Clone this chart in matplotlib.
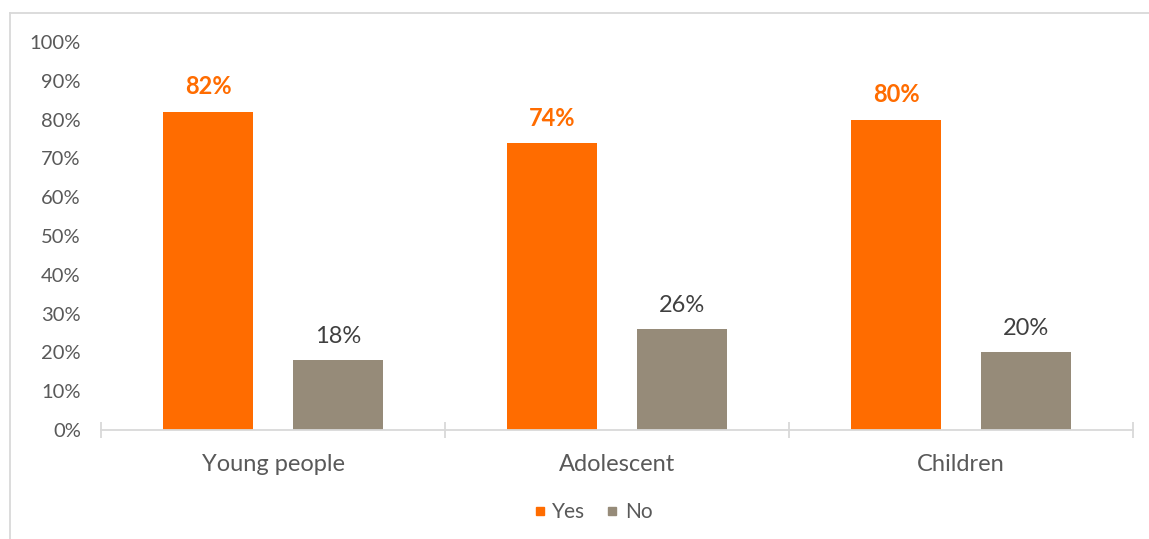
import matplotlib
matplotlib.use("Agg")
import matplotlib.pyplot as plt
from matplotlib.lines import Line2D
import numpy as np

plt.rcParams['font.family'] = ['Lato', 'DejaVu Sans']

categories = ["Young people", "Adolescent", "Children"]
yes_values = [0.82, 0.74, 0.80]
no_values = [0.18, 0.26, 0.20]
series_names = ["Yes", "No"]
y_ticks = [0.0, 0.1, 0.2, 0.3, 0.4, 0.5, 0.6, 0.7, 0.8, 0.9, 1.0]

ORANGE = "#FF6C00"
TAUPE = "#968B79"
TEXT = "#595959"
LINE = "#D9D9D9"

W, H = 1149, 539
fig = plt.figure(figsize=(W / 100, H / 100), dpi=100)
ax = fig.add_axes([101 / W, 1 - 430 / H, (1133 - 101) / W, (430 - 42) / H])

x = np.arange(len(categories))
width = 0.262
offset = 0.188
bars_yes = ax.bar(x - offset, yes_values, width, color=ORANGE, label=series_names[0])
bars_no = ax.bar(x + offset, no_values, width, color=TAUPE, label=series_names[1])

for rect, v in zip(bars_yes, yes_values):
    ax.annotate(f"{v:.0%}", (rect.get_x() + rect.get_width() / 2, v),
                xytext=(0, 12.5), textcoords="offset points",
                ha="center", va="baseline", fontsize=17,
                fontweight="bold", color=ORANGE)
for rect, v in zip(bars_no, no_values):
    ax.annotate(f"{v:.0%}", (rect.get_x() + rect.get_width() / 2, v),
                xytext=(0, 12.5), textcoords="offset points",
                ha="center", va="baseline", fontsize=17,
                color="#404040")

ax.set_xlim(-0.5, len(categories) - 0.5)
ax.set_ylim(0, 1)
ax.set_yticks(y_ticks)
ax.set_yticklabels([f"{t:.0%}" for t in y_ticks])
ax.tick_params(axis="y", length=0, pad=14.5, labelsize=14.5, labelcolor=TEXT)

ax.set_xticks(x)
ax.set_xticklabels(categories)
ax.set_xticks(np.arange(len(categories) + 1) - 0.5, minor=True)
ax.tick_params(axis="x", which="major", length=0, pad=17, labelsize=17, labelcolor=TEXT)
ax.tick_params(axis="x", which="minor", direction="inout", length=11.5,
               width=1.3, color=LINE)

for s in ["top", "right", "left"]:
    ax.spines[s].set_visible(False)
ax.spines["bottom"].set_color(LINE)
ax.spines["bottom"].set_linewidth(1.3)

# chart-area frame (top and left edges)
fig.add_artist(Line2D([10 / W, 1.0], [1 - 13 / H, 1 - 13 / H],
                      transform=fig.transFigure, color=LINE, lw=1.3))
fig.add_artist(Line2D([10 / W, 10 / W], [1 - 13 / H, 0.0],
                      transform=fig.transFigure, color=LINE, lw=1.3))

handles = [Line2D([], [], marker="s", linestyle="none", markersize=6,
                  markerfacecolor=c, markeredgecolor=c) for c in (ORANGE, TAUPE)]
fig.legend(handles, series_names, loc="center", bbox_to_anchor=(592 / W, 1 - 512 / H),
           ncol=2, frameon=False, fontsize=15, labelcolor=TEXT,
           handlelength=0.8, handletextpad=0.2, columnspacing=0.9)

fig.savefig("out.png", dpi=100, facecolor="white")
